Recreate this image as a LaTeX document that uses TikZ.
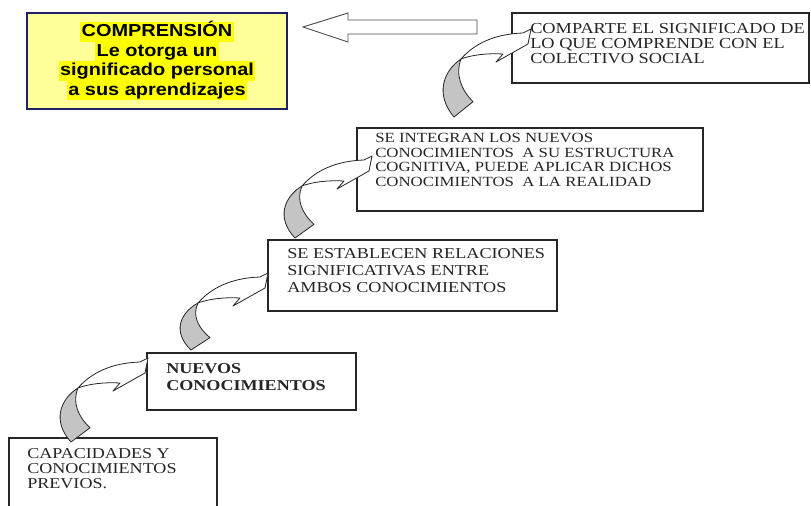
\documentclass[tikz,border=0pt]{standalone}
\usepackage{fontspec}
\setmainfont{Liberation Serif}
\newfontfamily\tnr[FakeStretch=1.2]{Liberation Serif}
\newfontfamily\arb[FakeStretch=1.15]{Liberation Sans}
\definecolor{boxyellow}{HTML}{FFFF99}
\definecolor{hlyellow}{HTML}{FFFF00}
\definecolor{navy}{HTML}{1F1F66}
\definecolor{lobegray}{HTML}{C4C4C4}
\definecolor{textgray}{HTML}{262626}
\newcommand\curvarr[3]{%
  \begin{scope}[shift={(#1,#2)}]
    \filldraw[carr, fill=lobegray, yscale=#3/57] (0,0) .. controls (-18,12) and (-26,35) .. (-7,57) -- (12,42) .. controls (0,30) and (-6,15) .. (0,0) -- cycle;
    \filldraw[carr, fill=white] (0,0) .. controls (13,-15) and (33,-25) .. (62,-26) -- (70,-30) -- (67,-15) -- (35,3) -- (42,-5) .. controls (27,-6) and (10,-4) .. (0,0) -- cycle;
  \end{scope}}
\tikzset{
  carr/.style={draw=black!85, line width=0.6pt, line join=round},
  boxline/.style={draw=black!85, line width=0.8pt},
  txt/.style={inner sep=0pt, anchor=north west, align=left, text=textgray},
  hl/.style={fill=hlyellow, inner xsep=1pt, inner ysep=0pt, text height=10.8pt, text depth=3.8pt,
    font=\arb\bfseries\fontsize{13}{14}\selectfont},
}
\begin{document}
\begin{tikzpicture}[x=0.75pt,y=-0.75pt]
\useasboundingbox (0,0) rectangle (811,506);
\clip (0,0) rectangle (811,506);
\fill[white] (0,0) rectangle (811,506);

% yellow box
\filldraw[fill=boxyellow, draw=navy, line width=0.8pt] (27,13) rectangle (287,109);
\node[hl] (y1) at (157,32) {COMPRENSIÓN};
\node[hl] (y2) at (157,51.5) {Le otorga un};
\node[hl] (y3) at (157,71) {significado personal};
\node[hl] (y4) at (157,90.5) {a sus aprendizajes};

% big left arrow
\filldraw[fill=white, draw=black!70, line width=0.7pt, line join=miter]
  (303,27) -- (348,13) -- (348,20) -- (477,20) -- (477,34) -- (348,34) -- (348,42) -- cycle;

% boxes
\draw[boxline] (512,13) rectangle (809,83);
\draw[boxline] (357,128) rectangle (703,211);
\draw[boxline] (268,240) rectangle (557,311);
\draw[boxline] (147,353) rectangle (356,410);
\draw[boxline] (9,438) rectangle (217,530);

% texts
\node[txt, font=\tnr\fontsize{11.45}{11.25}\selectfont] (t4) at (530,23)
  {COMPARTE EL SIGNIFICADO DE\\LO QUE COMPRENDE CON EL\\COLECTIVO SOCIAL};
\node[txt, font=\tnr\fontsize{10.5}{11}\selectfont] (t3) at (375,133)
  {SE INTEGRAN LOS NUEVOS\\CONOCIMIENTOS\ \ A SU ESTRUCTURA\\COGNITIVA, PUEDE APLICAR DICHOS\\CONOCIMIENTOS\ \ A LA REALIDAD};
\node[txt, font=\tnr\fontsize{11.35}{12.75}\selectfont] (t2) at (287,248)
  {SE ESTABLECEN RELACIONES\\SIGNIFICATIVAS ENTRE\\AMBOS CONOCIMIENTOS};
\node[txt, font=\tnr\bfseries\fontsize{11.3}{12.75}\selectfont] (t1) at (166,363)
  {NUEVOS\\CONOCIMIENTOS};
\node[txt, font=\tnr\fontsize{11.3}{11.25}\selectfont] (t0) at (27,448)
  {CAPACIDADES Y\\CONOCIMIENTOS\\PREVIOS.};

% curved arrows
\curvarr{78}{388}{54}
\curvarr{198}{303}{47}
\curvarr{302}{186}{52}
\curvarr{461}{59}{58}
\end{tikzpicture}
\end{document}
